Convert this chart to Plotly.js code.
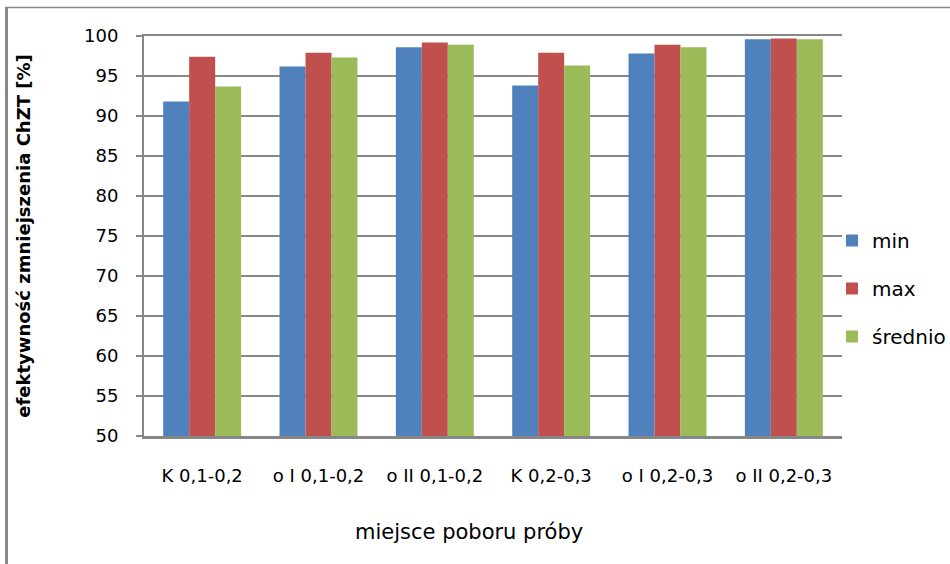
<!DOCTYPE html>
<html>
<head>
<meta charset="utf-8">
<script src="https://cdn.plot.ly/plotly-3.0.1.min.js"></script>
<style>
html,body{margin:0;padding:0;background:#fff;}
#chart{width:950px;height:564px;}
</style>
</head>
<body>
<div id="chart"></div>
<script>
const categories = ["K 0,1-0,2", "o I 0,1-0,2", "o II 0,1-0,2", "K 0,2-0,3", "o I 0,2-0,3", "o II 0,2-0,3"];
const minValues = [91.8, 96.2, 98.6, 93.8, 97.8, 99.6];
const maxValues = [97.4, 97.9, 99.2, 97.9, 98.9, 99.7];
const avgValues = [93.7, 97.3, 98.9, 96.3, 98.6, 99.6];
const seriesNames = ["min", "max", "średnio"];
const seriesColors = ["#4F81BD", "#C0504D", "#9BBB59"];
const yTicks = [50, 55, 60, 65, 70, 75, 80, 85, 90, 95, 100];
const xTitle = "miejsce poboru próby";
const yTitle = "efektywność zmniejszenia ChZT [%]";

const W = 950, H = 564;
const M = {l: 144, r: 108, t: 36, b: 128, autoexpand: false};
const pw = W - M.l - M.r, ph = H - M.t - M.b;
const px = x => (x - M.l) / pw;
const py = y => (H - M.b - y) / ph;

const FONT = "'DejaVu Sans', 'Liberation Sans', sans-serif";
const vals = [minValues, maxValues, avgValues];
const traces = vals.map((v, i) => ({
  type: "bar",
  name: seriesNames[i],
  x: categories,
  y: v,
  marker: {color: seriesColors[i]},
  legendgroup: "g" + i,
  hoverinfo: "x+y+name"
}));

const layout = {
  width: W, height: H,
  margin: M,
  paper_bgcolor: "#ffffff",
  plot_bgcolor: "#ffffff",
  barmode: "group",
  bargap: 0.33,
  bargroupgap: 0,
  font: {family: FONT, color: "#000", size: 18},
  showlegend: true,
  legend: {
    x: px(832), y: py(221), xanchor: "left", yanchor: "top",
    font: {family: FONT, size: 20, color: "#000"},
    tracegroupgap: 19,
    itemwidth: 30,
    bgcolor: "rgba(0,0,0,0)"
  },
  xaxis: {
    type: "category",
    showgrid: false,
    showline: true, mirror: true,
    linecolor: "#878787", linewidth: 2.5,
    ticks: "",
    tickfont: {family: FONT, size: 18, color: "#000"},
    ticklabelstandoff: 22,
    fixedrange: true
  },
  yaxis: {
    range: [50, 100],
    tickvals: yTicks,
    ticktext: yTicks.map(String),
    showgrid: true, gridcolor: "#878787", gridwidth: 2,
    showline: true, linecolor: "#878787", linewidth: 2,
    ticks: "outside", ticklen: 6, tickcolor: "#878787", tickwidth: 1.5,
    tickfont: {family: FONT, size: 18, color: "#000"},
    ticklabelstandoff: 14,
    zeroline: false,
    title: {text: yTitle, font: {family: FONT, size: 18, color: "#000", weight: "bold"}, standoff: 49},
    automargin: false,
    fixedrange: true
  },
  annotations: [{
    text: xTitle, xref: "paper", yref: "paper",
    x: px(469), y: py(532), xanchor: "center", yanchor: "middle",
    showarrow: false,
    font: {family: FONT, size: 21, color: "#000"}
  }],
  shapes: [
    {type: "line", xref: "paper", yref: "paper", x0: px(6.5), x1: px(6.5), y0: py(7), y1: py(564), line: {color: "#888888", width: 3}},
    {type: "line", xref: "paper", yref: "paper", x0: px(5), x1: px(950), y0: py(7.5), y1: py(7.5), line: {color: "#888888", width: 1.5}}
  ]
};

Plotly.newPlot("chart", traces, layout, {displayModeBar: false, staticPlot: true});
</script>
</body>
</html>
